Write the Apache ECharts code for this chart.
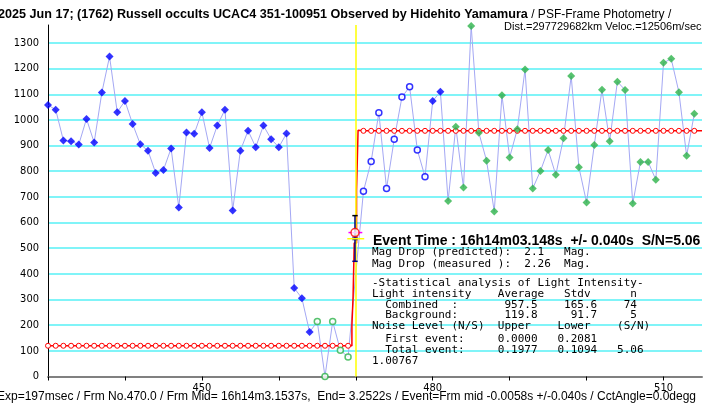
<!DOCTYPE html>
<html>
<head>
<meta charset="utf-8">
<script src="https://cdn.jsdelivr.net/npm/echarts@6/dist/echarts.min.js"></script>
<style>
  html, body { margin: 0; padding: 0; background: #fff; }
  #chart { width: 714px; height: 411px; }
</style>
</head>
<body>
<div id="chart"></div>
<script>
// frame numbers and measured light intensity (one value per frame, 430..514)
const frameStart = 430;
const intensity = [
  1058, 1040, 920, 917, 904, 1004, 912, 1107, 1247, 1030,   // 430-439
  1074, 984, 905, 880, 793, 805, 889, 659, 951, 946,        // 440-449
  1030, 891, 978, 1040, 647, 880, 958, 894, 978, 925,       // 450-459
  894, 947, 345, 305, 173, 214, 0, 214, 102, 76,            // 460-469
  null, 722, 838, 1028, 733, 925, 1089, 1129, 883, 779,     // 470-479
  1074, 1110, 684, 973, 737, 1366, 950, 841, 643, 1096,     // 480-489
  854, 964, 1197, 733, 801, 883, 786, 929, 1171, 816,       // 490-499
  678, 902, 1118, 917, 1149, 1117, 674, 836, 836, 767,      // 500-509
  1223, 1238, 1108, 860, 1024                               // 510-514
];

// fitted step model: background / combined levels and the rise between them
const fitLevels = [119.8, 957.5];
const fitRiseFrames = [469.5, 469.5, 469.65, 469.65, 469.8, 469.8, 470.1, 470.1, 470.3, 470.3];
const fitRiseValues = [119.8, 200, 200, 310, 310, 520, 520, 724, 724, 960];

// event point and its error bar
const eventFrame = 469.9;
const eventValue = 561;
const eventLine = 470;
const errRange = [449, 627];
const errInner = [533, 543];
const eventBand = 537;

// axis ticks
const xTickLabels = [450, 480, 510];

const frameOf = i => frameStart + i;
const pts = (from, to) => {
  const out = [];
  for (let f = from; f <= to; f++) {
    const v = intensity[f - frameStart];
    if (v !== null) out.push([f, v]);
  }
  return out;
};

const BLUE = '#0000ff';
const GREEN = '#2db34a';
const RED = '#ff0000';

const lineData = intensity.map((v, i) => [frameOf(i), v]);

// fitted line
const fitData = [];
for (let f = 430; f <= 469; f++) fitData.push({ value: [f, fitLevels[0]] });
fitRiseFrames.forEach((f, i) => fitData.push({ value: [f, fitRiseValues[i]], symbol: 'none' }));
for (let f = 471; f <= 514; f++) fitData.push({ value: [f, fitLevels[1]] });
fitData.push({ value: [515, fitLevels[1]], symbol: 'none' });

const seg = (a, b) => ({
  type: 'line', data: [a, b], symbol: 'none', silent: true, clip: false
});

const chart = echarts.init(document.getElementById('chart'));
const mono = '11px "DejaVu Sans Mono", "Liberation Mono", monospace';
const textLines = [
  ['Mag Drop (predicted):  2.1   Mag.', 252.5],
  ['Mag Drop (measured ):  2.26  Mag.', 264],
  ['-Statistical analysis of Light Intensity-', 283],
  ['Light intensity    Average   Stdv      n', 294.5],
  ['  Combined  :       957.5    165.6    74', 305],
  ['  Background:       119.8     91.7     5', 315.5],
  ['Noise Level (N/S)  Upper    Lower    (S/N)', 326],
  ['  First event:     0.0000   0.2081', 339],
  ['  Total event:     0.1977   0.1094   5.06', 350.5],
  ['1.00767', 361]
];

const graphics = [
  {
    type: 'text', x: -2, y: 15, z: 10,
    style: {
      text: '{b|2025 Jun 17; (1762) Russell occults UCAC4 351-100951 Observed by Hidehito Yamamura}{n| / PSF-Frame Photometry /}',
      textVerticalAlign: 'middle',
      rich: {
        b: { font: 'bold 12.6px "Liberation Sans", Arial, sans-serif', fill: '#000' },
        n: { font: '12px "Liberation Sans", Arial, sans-serif', fill: '#000' }
      }
    }
  },
  {
    type: 'text', x: 504, y: 27, z: 10,
    style: { text: 'Dist.=297729682km Veloc.=12506m/sec', font: '11px "Liberation Sans", Arial, sans-serif', fill: '#000', textVerticalAlign: 'middle' }
  },
  {
    type: 'text', x: -3, y: 397, z: 10,
    style: {
      text: 'Exp=197msec / Frm No.470.0 / Frm Mid= 16h14m3.1537s,  End= 3.2522s / Event=Frm mid -0.0058s +/-0.040s / CctAngle=0.0degg',
      font: '12px "Liberation Sans", Arial, sans-serif', fill: '#000', textVerticalAlign: 'middle'
    }
  },
  {
    type: 'text', x: 373, y: 241, z: 10,
    style: { text: 'Event Time : 16h14m03.148s  +/- 0.040s  S/N=5.06', font: 'bold 14px "Liberation Sans", Arial, sans-serif', fill: '#000', textVerticalAlign: 'middle' }
  }
].concat(textLines.map(([t, y]) => ({
  type: 'text', x: 372, y: y, z: 10,
  style: { text: t, font: mono, fill: '#000', textVerticalAlign: 'middle' }
})));

const capW = 0.35;

chart.setOption({
  animation: false,
  backgroundColor: '#fff',
  grid: { left: 48, right: 12, top: 25, bottom: 34.5 },
  xAxis: {
    type: 'value', min: 430, max: 515, interval: 10,
    axisLine: { onZero: false, lineStyle: { color: '#808080', width: 2 } },
    axisTick: { show: true, length: 4, lineStyle: { color: '#000' } },
    axisLabel: {
      color: '#000', fontSize: 11, margin: 6,
      fontFamily: '"DejaVu Sans Condensed", "Liberation Sans Narrow", sans-serif',
      formatter: v => (xTickLabels.indexOf(v) >= 0 ? String(v) : ''),
      showMaxLabel: false
    },
    splitLine: { show: false }
  },
  yAxis: {
    type: 'value', min: 0, max: 1370, interval: 100,
    axisLine: { show: true, lineStyle: { color: '#000', width: 1 } },
    axisTick: { show: false },
    axisLabel: {
      color: '#000', fontSize: 11, margin: 9, showMaxLabel: false,
      fontFamily: '"DejaVu Sans Condensed", "Liberation Sans Narrow", sans-serif',
      formatter: v => String(v)
    },
    splitLine: { show: true, showMinLine: false, showMaxLine: false, lineStyle: { color: '#80f4f8', width: 2 } }
  },
  graphic: graphics,
  series: [
    {
      type: 'line', data: lineData, connectNulls: true, symbol: 'none', clip: false,
      lineStyle: { color: '#a4a8f4', width: 1 }, z: 2,
      markLine: {
        silent: true, symbol: 'none', label: { show: false },
        lineStyle: { color: '#ffff00', width: 1.5, type: 'solid' },
        data: [{ xAxis: eventLine }]
      }
    },
    {
      type: 'line', data: fitData, clip: false, z: 3,
      symbol: 'circle', symbolSize: 5,
      lineStyle: { color: RED, width: 1.5 },
      itemStyle: { color: '#fff', borderColor: RED, borderWidth: 1 }
    },
    {
      type: 'scatter', data: pts(430, 464).concat(pts(480, 481)), symbol: 'diamond', symbolSize: 8,
      itemStyle: { color: BLUE }, z: 5, clip: false
    },
    {
      type: 'scatter', data: pts(471, 479), symbol: 'circle', symbolSize: 6,
      itemStyle: { color: '#fff', borderColor: BLUE, borderWidth: 1.5 }, z: 5, clip: false
    },
    {
      type: 'scatter', data: pts(465, 469), symbol: 'circle', symbolSize: 6,
      itemStyle: { color: '#fff', borderColor: GREEN, borderWidth: 1.5 }, z: 5, clip: false
    },
    {
      type: 'scatter', data: pts(482, 514), symbol: 'diamond', symbolSize: 8,
      itemStyle: { color: GREEN }, z: 5, clip: false
    },
    // event marker: error bar, bands and fitted point
    Object.assign(seg([eventFrame, errRange[0]], [eventFrame, errRange[1]]), { lineStyle: { color: '#000080', width: 1.5 }, z: 6 }),
    Object.assign(seg([eventFrame - capW, errRange[1]], [eventFrame + capW, errRange[1]]), { lineStyle: { color: '#000', width: 1.5 }, z: 6 }),
    Object.assign(seg([eventFrame - capW, errRange[0]], [eventFrame + capW, errRange[0]]), { lineStyle: { color: '#000080', width: 1.5 }, z: 6 }),
    Object.assign(seg([eventFrame - capW, errInner[0]], [eventFrame + capW, errInner[0]]), { lineStyle: { color: '#000080', width: 1 }, z: 6 }),
    Object.assign(seg([eventFrame - capW, errInner[1]], [eventFrame + capW, errInner[1]]), { lineStyle: { color: '#000080', width: 1 }, z: 6 }),
    Object.assign(seg([eventFrame - 1.0, eventBand], [eventFrame + 1.2, eventBand]), { lineStyle: { color: '#ffff00', width: 1.5 }, z: 6 }),
    Object.assign(seg([eventFrame - 0.85, eventValue], [eventFrame + 0.95, eventValue]), { lineStyle: { color: '#ff00ff', width: 1.5 }, z: 6 }),
    {
      type: 'scatter', data: [[eventFrame, eventValue]], symbol: 'circle', symbolSize: 8,
      itemStyle: { color: '#fff', borderColor: RED, borderWidth: 1.5 }, z: 7, clip: false
    }
  ]
});
</script>
</body>
</html>
